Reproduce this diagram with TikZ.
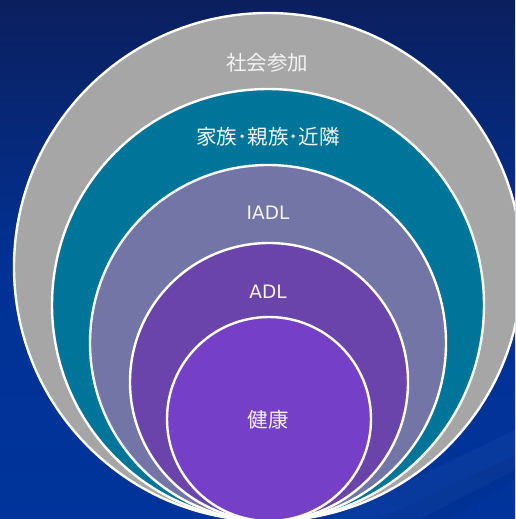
\documentclass[tikz,border=0pt]{standalone}
\usepackage{fontspec}
\setmainfont{DejaVu Sans}
\newfontfamily\cjkfont{Noto Sans CJK JP}
\definecolor{bgtop}{HTML}{0B1F5E}
\definecolor{bgbot}{HTML}{00349C}
\definecolor{cgray}{HTML}{A6A6A6}
\definecolor{cteal}{HTML}{00759A}
\definecolor{ciadl}{HTML}{7275A6}
\definecolor{cadl}{HTML}{6B44AB}
\definecolor{chealth}{HTML}{763FC8}
\definecolor{txt}{HTML}{F4F4F4}
\tikzset{
  ring/.style={circle, draw=white, line width=2.4pt, inner sep=0pt, minimum size=#1},
  cjklabel/.style={text=txt, font=\cjkfont\fontsize{20.5}{24}\selectfont, inner sep=0pt},
  latlabel/.style={text=txt, font=\fontsize{18.5}{22}\selectfont, inner sep=0pt}
}
\begin{document}
\begin{tikzpicture}[x=1pt,y=-1pt]
\useasboundingbox (0,0) rectangle (515,519);
\clip (0,0) rectangle (515,519);
\shade[top color=bgtop, bottom color=bgbot, middle color=bgbot!85!bgtop] (0,0) rectangle (515,519);
\fill[white, opacity=0.03] (330,519) -- (515,430) -- (515,470) -- (420,519) -- cycle;
\fill[black, opacity=0.04] (380,519) -- (515,455) -- (515,480) -- (450,519) -- cycle;
\node[ring=508pt, fill=cgray] (c1) at (268,267) {};
\node[ring=432pt, fill=cteal] (c2) at (268,305) {};
\node[ring=356pt, fill=ciadl] (c3) at (268,343) {};
\node[ring=278pt, fill=cadl] (c4) at (269,382) {};
\node[ring=204pt, fill=chealth] (c5) at (269,419) {};
\node[cjklabel] (t1) at (267,63) {社会参加};
\node[cjklabel] (t2) at (268,137) {家族･親族･近隣};
\node[latlabel] (t3) at (268,213) {IADL};
\node[latlabel] (t4) at (268,292) {ADL};
\node[cjklabel] (t5) at (268,420) {健康};
\end{tikzpicture}
\end{document}
